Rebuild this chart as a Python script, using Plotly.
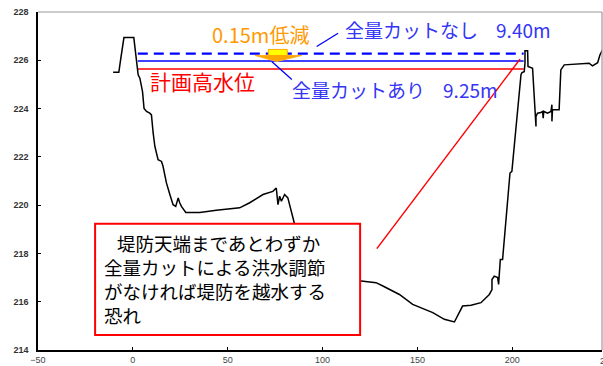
import plotly.graph_objects as go

# --- data ---
terrain_x = [-10.4, -7.4, -6.5, -4.7, 0.5, 1.9, 2.8, 3.7, 5.1, 5.9, 7.2, 8.9, 9.8, 10.7, 11.6, 13.3,
             15.1, 15.9, 17.7, 19.5, 21.2, 22.6, 23.9, 24.7, 25.6, 27.9, 35.3, 44.0, 56.3, 61.6,
             68.6, 73.8, 75.6, 76.5, 77.4, 78.3, 80.0, 81.7, 83.5, 85.3, 88.0, 92.0, 100.0, 110.0,
             120.4, 128.2, 131.8, 135.3, 140.5, 147.5, 158.1, 164.2, 169.5, 173.8, 178.3, 183.5,
             187.9, 189.3, 189.3, 190.5, 192.3, 192.8, 193.7, 194.9, 196.7, 198.8, 199.8, 201.1,
             202.8, 204.6, 205.1, 206.3, 206.7, 206.7, 208.1, 208.3, 210.7, 212.1, 212.5, 212.5,
             213.3, 215.1, 216.0, 216.3, 216.6, 218.6, 220.4, 220.9, 220.9, 221.2, 224.7, 225.6,
             227.4, 240.5, 242.3, 245.0, 246.2, 246.7, 248.0]
terrain_y = [225.5, 225.5, 226.0, 226.94, 226.94, 226.0, 225.4, 225.26, 224.7, 224.0, 223.88, 223.81,
             223.74, 222.99, 222.43, 221.88, 221.81, 221.61, 220.92, 220.44, 220.02, 219.95, 220.3,
             220.1, 219.95, 219.7, 219.7, 219.79, 219.89, 220.1, 220.44, 220.57, 220.71, 220.02,
             220.37, 220.16, 220.44, 220.3, 219.8, 219.2, 218.2, 217.3, 217.0, 216.9, 216.86, 216.79,
             216.65, 216.51, 216.3, 215.89, 215.55, 215.27, 215.16, 215.82, 215.85, 215.96, 216.3,
             216.5, 216.92, 217.06, 217.0, 216.72, 217.75, 217.75, 219.27, 221.33, 221.4, 222.57,
             223.95, 225.4, 225.49, 225.53, 225.88, 226.4, 226.4, 225.74, 225.67, 223.67, 223.26,
             223.67, 223.81, 223.84, 223.88, 223.6, 223.88, 223.81, 223.88, 224.16, 223.47, 223.95,
             223.95, 225.6, 225.81, 225.88, 225.77, 225.9, 226.22, 226.29, 226.5]

level_x = [2.6, 206.0]
level_no_cut = 226.28     # 全量カットなし 9.40m
level_cut = 225.97        # 全量カットあり 9.25m
level_plan = 225.64       # 計画高水位

x_ticks = [-50, 0, 50, 100, 150, 200]
y_ticks = [214, 216, 218, 220, 222, 224, 226, 228]

label_no_cut = "全量カットなし\u2002\u2005\u20099.40m"
label_cut = "全量カットあり\u2002\u2005\u20099.25m"
label_plan = "計画高水位"
label_reduce = "0.15m低減"
box_text = ("\u2002\u2009堤防天端まであとわずか<br>全量カットによる洪水調節<br>"
            "がなければ堤防を越水する<br>恐れ")

FONT = "Noto Sans CJK JP"
BLUE_TXT = "#3535F5"

fig = go.Figure()

fig.add_trace(go.Scatter(x=level_x, y=[level_no_cut] * 2, mode="lines",
                         line=dict(color="#0000FF", width=2.2, dash="10px,6px"),
                         hoverinfo="skip", showlegend=False))
fig.add_trace(go.Scatter(x=level_x, y=[level_cut] * 2, mode="lines",
                         line=dict(color="#0000FF", width=1.4),
                         hoverinfo="skip", showlegend=False))
fig.add_trace(go.Scatter(x=level_x, y=[level_plan] * 2, mode="lines",
                         line=dict(color="#FF0000", width=1.4),
                         hoverinfo="skip", showlegend=False))
fig.add_trace(go.Scatter(x=terrain_x, y=terrain_y, mode="lines",
                         line=dict(color="black", width=1.5),
                         hoverinfo="skip", showlegend=False))

shapes = []
# leader lines
shapes.append(dict(type="line", xref="x", yref="y", x0=108.2, y0=227.12, x1=96.9, y1=226.57,
                   line=dict(color="#0000FF", width=1.3)))
shapes.append(dict(type="line", xref="x", yref="y", x0=73.2, y0=225.95, x1=83.8, y1=225.2,
                   line=dict(color="#0000FF", width=1.3)))
shapes.append(dict(type="line", xref="x", yref="y", x0=128.6, y0=218.2, x1=204.1, y1=226.05,
                   line=dict(color="#FF0000", width=1.5)))
# block arrow (down)
shapes.append(dict(type="path", xref="x", yref="y",
                   path="M 64.4 226.2 L 89.0 226.2 L 75.8 225.95 Z",
                   fillcolor="#FFA500", line=dict(color="#FFB020", width=1)))
shapes.append(dict(type="path", xref="x", yref="y",
                   path="M 71.4 226.45 L 81.4 226.45 L 81.4 226.2 L 71.4 226.2 Z",
                   fillcolor="#FFFF00", line=dict(color="#FFA500", width=1)))
# text box
shapes.append(dict(type="rect", xref="x", yref="y", x0=-19.9, x1=119.8, y0=214.62, y1=219.23,
                   fillcolor="white", line=dict(color="#FF0000", width=2), layer="above"))
# top / right frame
shapes.append(dict(type="line", xref="paper", yref="paper", x0=0, x1=1, y0=1, y1=1,
                   line=dict(color="#999999", width=1.2)))
shapes.append(dict(type="line", xref="paper", yref="paper", x0=1, x1=1, y0=0, y1=1,
                   line=dict(color="#999999", width=1.2)))

annotations = [
    dict(x=67.1, y=227.05, xref="x", yref="y", text=label_reduce, showarrow=False,
         font=dict(family=FONT, size=20, color="#FF9900"), xanchor="center", yanchor="middle"),
    dict(x=110.8, y=227.26, xref="x", yref="y", text=label_no_cut, showarrow=False,
         font=dict(family=FONT, size=19, color=BLUE_TXT), xanchor="left", yanchor="middle"),
    dict(x=82.9, y=224.79, xref="x", yref="y", text=label_cut, showarrow=False,
         font=dict(family=FONT, size=19, color=BLUE_TXT), xanchor="left", yanchor="middle"),
    dict(x=7.9, y=225.14, xref="x", yref="y", text=label_plan, showarrow=False,
         font=dict(family=FONT, size=21, color="#FF0000"), xanchor="left", yanchor="middle"),
    dict(x=-16.3, y=216.93, xref="x", yref="y", text=box_text, showarrow=False, align="left",
         font=dict(family=FONT, size=18.5, color="black"), xanchor="left", yanchor="middle"),
    dict(x=1.0105, y=-0.012, xref="paper", yref="paper", text="250", showarrow=False,
         font=dict(family="Liberation Sans", size=9, color="#444"), xanchor="center", yanchor="top"),
]

fig.update_layout(
    width=603, height=366,
    margin=dict(l=38, r=1, t=12, b=14),
    paper_bgcolor="white", plot_bgcolor="white",
    shapes=shapes, annotations=annotations,
    xaxis=dict(range=[-50, 247.3], tickvals=x_ticks, showgrid=False, zeroline=False,
               showline=True, linecolor="black", linewidth=1.5, ticks="inside", ticklen=3,
               tickcolor="black", tickfont=dict(family="Liberation Sans", size=9, color="#444")),
    yaxis=dict(range=[214, 228], tickvals=y_ticks, showgrid=False, zeroline=False,
               showline=True, linecolor="black", linewidth=1.5, ticks="inside", ticklen=3,
               tickcolor="black", ticklabelstandoff=6,
               tickfont=dict(family="Liberation Sans", size=9, color="#333", weight="bold")),
)

# remove the page's default body margin so the 603x366 figure fills the window exactly
fig.write_html("out.html", config={"displayModeBar": False},
               post_script="document.body.style.margin='0';document.body.style.overflow='hidden';")
